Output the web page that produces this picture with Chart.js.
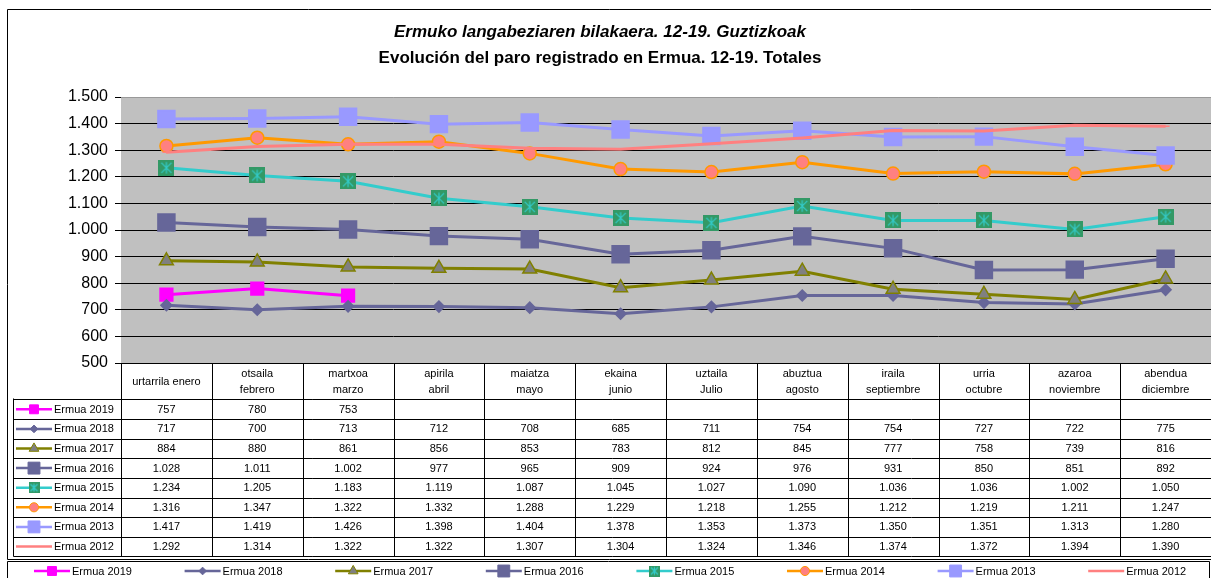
<!DOCTYPE html>
<html>
<head>
<meta charset="utf-8">
<script src="https://cdn.jsdelivr.net/npm/chart.js@4.4.1/dist/chart.umd.min.js"></script>
<style>
  html, body { margin: 0; padding: 0; background: #fff; }
  #wrap { width: 1211px; height: 578px; }
</style>
</head>
<body>
<div id="wrap"><canvas id="paro" width="1211" height="578"></canvas></div>
<script>
// month labels (euskera / castellano), one entry per line of the header cell
var months = [
    ['urtarrila enero'], ['otsaila', 'febrero'], ['martxoa', 'marzo'], ['apirila', 'abril'],
    ['maiatza', 'mayo'], ['ekaina', 'junio'], ['uztaila', 'Julio'], ['abuztua', 'agosto'],
    ['iraila', 'septiembre'], ['urria', 'octubre'], ['azaroa', 'noviembre'], ['abendua', 'diciembre']
];
var seriesNames = ['Ermua 2019', 'Ermua 2018', 'Ermua 2017', 'Ermua 2016',
                   'Ermua 2015', 'Ermua 2014', 'Ermua 2013', 'Ermua 2012'];
var s2019 = [757, 780, 753, null, null, null, null, null, null, null, null, null];
var s2018 = [717, 700, 713, 712, 708, 685, 711, 754, 754, 727, 722, 775];
var s2017 = [884, 880, 861, 856, 853, 783, 812, 845, 777, 758, 739, 816];
var s2016 = [1028, 1011, 1002, 977, 965, 909, 924, 976, 931, 850, 851, 892];
var s2015 = [1234, 1205, 1183, 1119, 1087, 1045, 1027, 1090, 1036, 1036, 1002, 1050];
var s2014 = [1316, 1347, 1322, 1332, 1288, 1229, 1218, 1255, 1212, 1219, 1211, 1247];
var s2013 = [1417, 1419, 1426, 1398, 1404, 1378, 1353, 1373, 1350, 1351, 1313, 1280];
var s2012 = [1292, 1314, 1322, 1322, 1307, 1304, 1324, 1346, 1374, 1372, 1394, 1390];
var yTicks = [500, 600, 700, 800, 900, 1000, 1100, 1200, 1300, 1400, 1500];

var titleEu = 'Ermuko langabeziaren bilakaera. 12-19. Guztizkoak';
var titleEs = 'Evolución del paro registrado en Ermua. 12-19. Totales';

var FONT = 'Arial, "Liberation Sans", sans-serif';

function fmt(v) {
    if (v === null || v === undefined) return '';
    return String(v).replace(/\B(?=(\d{3})+(?!\d))/g, '.');
}

// green square with turquoise asterisk (2015 marker)
function makeStar(size) {
    var c = document.createElement('canvas');
    c.width = size; c.height = size;
    var g = c.getContext('2d');
    g.fillStyle = '#339966';
    g.fillRect(0, 0, size, size);
    g.strokeStyle = '#33CCCC';
    g.lineWidth = 1.2;
    var m = size * 0.18;
    g.beginPath();
    g.moveTo(m, m); g.lineTo(size - m, size - m);
    g.moveTo(size - m, m); g.lineTo(m, size - m);
    g.moveTo(size / 2, m * 0.8); g.lineTo(size / 2, size - m * 0.8);
    g.stroke();
    return c;
}
var starBig = makeStar(16);
var starSmall = makeStar(11);

var styles = [
    { line: '#FF00FF', fill: '#FF00FF', edge: '#FF00FF', point: 'rect', r: 9 },
    { line: '#666699', fill: '#666699', edge: '#666699', point: 'rectRot', r: 5.5 },
    { line: '#808000', fill: '#808080', edge: '#808000', point: 'triangle', r: 8 },
    { line: '#666699', fill: '#666699', edge: '#666699', point: 'rect', r: 12 },
    { line: '#33CCCC', fill: '#339966', edge: '#339966', point: starBig, small: starSmall, r: 8 },
    { line: '#FF9900', fill: '#FF8080', edge: '#FF9900', point: 'circle', r: 6.5 },
    { line: '#9999FF', fill: '#9999FF', edge: '#9999FF', point: 'rect', r: 12 },
    { line: '#FF8080', fill: '#FF8080', edge: '#FF8080', point: 'line', r: 4 }
];
var values = [s2019, s2018, s2017, s2016, s2015, s2014, s2013, s2012];

var datasets = values.map(function (vals, i) {
    var st = styles[i];
    return {
        label: seriesNames[i],
        data: vals,
        borderColor: st.line,
        borderWidth: 3,
        backgroundColor: st.fill,
        pointStyle: st.point,
        pointRadius: st.r,
        pointHoverRadius: st.r,
        pointBackgroundColor: st.fill,
        pointBorderColor: st.edge,
        pointBorderWidth: 1.5,
        spanGaps: false,
        tension: 0,
        order: values.length - i
    };
});

function drawKey(ctx, i, x0, x1, y, scale) {
    var st = styles[i];
    ctx.save();
    ctx.strokeStyle = st.line;
    ctx.lineWidth = 2.5;
    ctx.beginPath();
    ctx.moveTo(x0, y); ctx.lineTo(x1, y);
    ctx.stroke();
    var cx = (x0 + x1) / 2;
    ctx.fillStyle = st.fill;
    ctx.strokeStyle = st.edge;
    ctx.lineWidth = 1;
    var style = st.small || st.point;
    Chart.helpers.drawPoint(ctx, { pointStyle: style, radius: st.r * scale, rotation: 0, borderWidth: 1 }, cx, y);
    ctx.restore();
}

var framePlugin = {
    id: 'frame',
    beforeDraw: function (chart) {
        var ctx = chart.ctx, a = chart.chartArea;
        ctx.save();
        ctx.fillStyle = '#fff';
        ctx.fillRect(0, 0, chart.width, chart.height);
        ctx.fillStyle = '#C0C0C0';
        ctx.fillRect(a.left, a.top, a.right - a.left, a.bottom - a.top);
        // titles
        ctx.fillStyle = '#000';
        ctx.textAlign = 'center';
        ctx.textBaseline = 'alphabetic';
        ctx.font = 'italic bold 17px ' + FONT;
        ctx.fillText(titleEu, 600, 37);
        ctx.font = 'bold 17px ' + FONT;
        ctx.fillText(titleEs, 600, 63);
        ctx.restore();
    },
    afterDraw: function (chart) {
        var ctx = chart.ctx, a = chart.chartArea;
        var xs = chart.scales.x;
        var half = (xs.getPixelForValue(1) - xs.getPixelForValue(0)) / 2;
        var hdrTop = Math.round(a.bottom) + 0.5;
        var rowTop = 399.5, rowH = 19.6, nRows = values.length;
        var tblLeft = 13.5, right = chart.width;
        ctx.save();
        ctx.strokeStyle = '#000';
        ctx.lineWidth = 1;

        // outer frame of the chart object
        ctx.beginPath();
        ctx.moveTo(right, 9.5); ctx.lineTo(7.5, 9.5); ctx.lineTo(7.5, 559.5); ctx.lineTo(right, 559.5);
        ctx.stroke();

        // header + data grid
        ctx.beginPath();
        ctx.moveTo(a.left, hdrTop); ctx.lineTo(right, hdrTop);
        for (var r = 0; r <= nRows; r++) {
            var yy = Math.round(rowTop + r * rowH) + 0.5 - (r === 0 ? 1 : 0);
            ctx.moveTo(tblLeft, yy); ctx.lineTo(right, yy);
        }
        var tblBottom = Math.round(rowTop + nRows * rowH) + 0.5;
        ctx.moveTo(tblLeft, rowTop - 1); ctx.lineTo(tblLeft, tblBottom);
        for (var c = 0; c <= months.length; c++) {
            var xx = Math.round(xs.getPixelForValue(c) - half) + 0.5;
            ctx.moveTo(xx, hdrTop); ctx.lineTo(xx, tblBottom);
        }
        ctx.stroke();

        // month headers
        ctx.fillStyle = '#000';
        ctx.font = '11px ' + FONT;
        ctx.textAlign = 'center';
        ctx.textBaseline = 'middle';
        months.forEach(function (lines, i) {
            var cx = xs.getPixelForValue(i);
            var mid = (hdrTop + rowTop) / 2;
            if (lines.length === 1) {
                ctx.fillText(lines[0], cx, mid);
            } else {
                ctx.fillText(lines[0], cx, mid - 8);
                ctx.fillText(lines[1], cx, mid + 8);
            }
        });

        // rows
        values.forEach(function (vals, r) {
            var cy = rowTop + r * rowH + rowH / 2;
            drawKey(ctx, r, 16, 52, cy, 0.7);
            ctx.fillStyle = '#000';
            ctx.textAlign = 'left';
            ctx.fillText(seriesNames[r], 54, cy + 0.5);
            ctx.textAlign = 'center';
            vals.forEach(function (v, i) {
                ctx.fillText(fmt(v), xs.getPixelForValue(i), cy + 0.5);
            });
        });

        // legend box
        ctx.strokeStyle = '#000';
        ctx.beginPath();
        ctx.moveTo(7.5, 578); ctx.lineTo(7.5, 561.5); ctx.lineTo(1209.5, 561.5); ctx.lineTo(1209.5, 578);
        ctx.stroke();
        seriesNames.forEach(function (name, i) {
            var x0 = 34 + i * 150.6;
            drawKey(ctx, i, x0, x0 + 36, 571, 0.7);
            ctx.fillStyle = '#000';
            ctx.textAlign = 'left';
            ctx.fillText(name, x0 + 38, 571.5);
        });
        ctx.restore();
    }
};

new Chart(document.getElementById('paro'), {
    type: 'line',
    data: { labels: months.map(function (m) { return m.join(' '); }), datasets: datasets },
    options: {
        responsive: false,
        animation: false,
        events: [],
        layout: { autoPadding: false, padding: { left: 0, right: 0, top: 97, bottom: 215 } },
        plugins: { legend: { display: false }, tooltip: { enabled: false }, title: { display: false } },
        scales: {
            x: {
                type: 'category',
                offset: true,
                display: false
            },
            y: {
                min: 500,
                max: 1500,
                afterBuildTicks: function (scale) {
                    scale.ticks = yTicks.map(function (v) { return { value: v }; });
                },
                afterFit: function (scale) { scale.width = 121; },
                border: { display: false },
                grid: {
                    color: function (c) { return c.tick && c.tick.value === 1500 ? '#999999' : '#000000'; },
                    tickColor: '#000',
                    lineWidth: 1,
                    tickLength: 6,
                    drawTicks: true
                },
                ticks: {
                    color: '#000',
                    padding: 7,
                    font: { family: FONT, size: 16 },
                    callback: function (v) { return fmt(v); }
                }
            }
        }
    },
    plugins: [framePlugin]
});
</script>
</body>
</html>
